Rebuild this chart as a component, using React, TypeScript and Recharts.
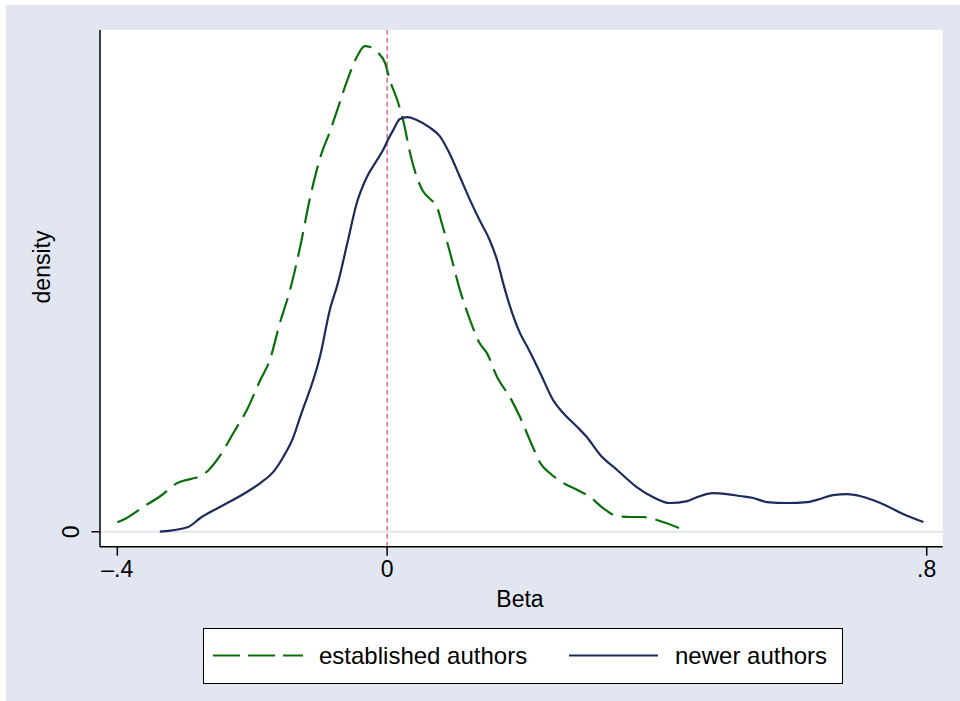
import React from 'react';
import { LineChart, Line, XAxis, YAxis, CartesianGrid, ReferenceLine, Legend } from 'recharts';

const FONT = '"Liberation Sans", Arial, Helvetica, sans-serif';

const xTicks = [-0.4, 0, 0.8];
const xTickLabels = ['\u2013.4', '0', '.8'];
const yTicks = [0];
const yTickLabels = ['0'];

const seriesNames = ['established authors', 'newer authors'];

const establishedX = [
  -0.4, -0.389, -0.362, -0.336, -0.311, -0.292, -0.277, -0.266, -0.248, -0.228, -0.208, -0.188, -0.174,
  -0.159, -0.144, -0.129, -0.114, -0.099, -0.084, -0.074, -0.059, -0.045, -0.033, -0.025, -0.013, -0.003,
  0.004, 0.015, 0.024, 0.034, 0.044, 0.053, 0.064, 0.074, 0.081, 0.093, 0.108, 0.123, 0.137, 0.148, 0.163,
  0.182, 0.197, 0.216, 0.227, 0.241, 0.261, 0.282, 0.301, 0.32, 0.341, 0.36, 0.379, 0.4, 0.429, 0.443,
];
const establishedY = [
  0.067, 0.091, 0.176, 0.255, 0.348, 0.376, 0.398, 0.434, 0.541, 0.705, 0.869, 1.084, 1.226,
  1.491, 1.726, 2.034, 2.391, 2.676, 2.869, 3.012, 3.226, 3.391, 3.469, 3.462, 3.419, 3.348,
  3.226, 3.084, 2.934, 2.705, 2.534, 2.434, 2.376, 2.319, 2.205, 1.998, 1.726, 1.512, 1.348, 1.276, 1.105,
  0.962, 0.819, 0.605, 0.491, 0.419, 0.348, 0.298, 0.248, 0.169, 0.112, 0.105, 0.105, 0.084, 0.034, 0.005,
];

const newerX = [
  -0.337, -0.295, -0.277, -0.248, -0.208, -0.188, -0.169, -0.154, -0.139, -0.129, -0.099, -0.085, -0.073,
  -0.059, -0.045, -0.03, -0.015, -0.006, 0.001, 0.009, 0.019, 0.03, 0.044, 0.064, 0.078, 0.093, 0.108,
  0.123, 0.137, 0.152, 0.163, 0.172, 0.182, 0.197, 0.208, 0.227, 0.246, 0.261, 0.282, 0.296, 0.316, 0.341,
  0.37, 0.394, 0.419, 0.445, 0.46, 0.483, 0.504, 0.523, 0.543, 0.563, 0.593, 0.623, 0.642, 0.661, 0.682,
  0.701, 0.72, 0.741, 0.765, 0.795,
];
const newerY = [
  0.0, 0.034, 0.098, 0.176, 0.284, 0.348, 0.426, 0.534, 0.676, 0.819, 1.262, 1.584, 1.776,
  2.062, 2.348, 2.534, 2.655, 2.726, 2.798, 2.869, 2.948, 2.962, 2.941, 2.884, 2.826, 2.698, 2.534,
  2.369, 2.226, 2.084, 1.941, 1.776, 1.612, 1.419, 1.319, 1.134, 0.941, 0.848, 0.748, 0.676, 0.548, 0.441,
  0.319, 0.248, 0.205, 0.219, 0.248, 0.276, 0.269, 0.255, 0.241, 0.212, 0.205, 0.212, 0.234, 0.262, 0.269,
  0.255, 0.226, 0.184, 0.126, 0.069,
];

const establishedData = establishedX.map((x, i) => ({ x, y: establishedY[i] }));
const newerData = newerX.map((x, i) => ({ x, y: newerY[i] }));

const GREEN = '#0a6f0a';
const NAVY = '#1c2b5c';
const REFRED = '#d4708a';
const BG = '#e1e6f0';
const DASH = '25 9';

const YTick = (props: any) => {
  const { y, payload } = props;
  const idx = yTicks.indexOf(payload.value);
  const label = idx >= 0 ? yTickLabels[idx] : String(payload.value);
  const cx = 71;
  return (
    <text
      x={cx}
      y={y}
      dy="0.36em"
      transform={`rotate(-90 ${cx} ${y})`}
      textAnchor="middle"
      fill="#000"
      fontSize={23}
      fontFamily={FONT}
    >
      {label}
    </text>
  );
};

const LegendBox = () => (
  <div
    style={{
      position: 'relative',
      width: 640,
      height: 56,
      boxSizing: 'border-box',
      border: '1.5px solid #000',
      background: '#fff',
    }}
  >
    <svg width={637} height={53} style={{ position: 'absolute', left: 0, top: 0 }}>
      <line x1={9} x2={99} y1={26.5} y2={26.5} stroke={GREEN} strokeWidth={2.2} strokeDasharray="27 8" />
      <text x={115} y={26.5} dy="0.36em" fontSize={24} fontFamily={FONT} fill="#000">
        {seriesNames[0]}
      </text>
      <line x1={365} x2={454} y1={26.5} y2={26.5} stroke={NAVY} strokeWidth={2.2} />
      <text x={471} y={26.5} dy="0.36em" fontSize={24} fontFamily={FONT} fill="#000">
        {seriesNames[1]}
      </text>
    </svg>
  </div>
);

export default function App() {
  return (
    <div style={{ position: 'absolute', left: 0, top: 0, width: 960, height: 701 }}>
      <div style={{ position: 'absolute', left: 6, top: 5, width: 954, height: 696, background: BG }} />
      <div style={{ position: 'absolute', left: 0, top: 0 }}>
        <LineChart
          width={960}
          height={701}
          margin={{ top: 30, right: 17.3, left: 40, bottom: 104.3 }}
        >
          <CartesianGrid
            fill="#ffffff"
            vertical={false}
            horizontal={true}
            stroke={BG}
            strokeWidth={2}
            horizontalValues={yTicks}
          />
          <XAxis
            dataKey="x"
            type="number"
            domain={[-0.4257, 0.8237]}
            allowDataOverflow
            ticks={xTicks}
            tickFormatter={(v: number) => {
              const i = xTicks.indexOf(v);
              return i >= 0 ? xTickLabels[i] : String(v);
            }}
            height={50}
            tickSize={9}
            tickMargin={5}
            axisLine={{ stroke: '#000', strokeWidth: 1.5 }}
            tickLine={{ stroke: '#000', strokeWidth: 1.5 }}
            tick={{ fill: '#000', fontSize: 23, fontFamily: FONT }}
            label={{
              content: () => (
                <text x={520} y={599} dy="0.36em" textAnchor="middle" fontSize={23} fontFamily={FONT} fill="#000">
                  Beta
                </text>
              ),
            }}
          />
          <YAxis
            type="number"
            domain={[-0.107, 3.584]}
            allowDataOverflow
            ticks={yTicks}
            width={60}
            tickSize={8.5}
            axisLine={{ stroke: '#000', strokeWidth: 1.5 }}
            tickLine={{ stroke: '#000', strokeWidth: 1.5 }}
            tick={<YTick />}
            label={{
              content: () => (
                <text
                  x={42}
                  y={267}
                  dy="0.36em"
                  transform="rotate(-90 42 267)"
                  textAnchor="middle"
                  fontSize={23}
                  fontFamily={FONT}
                  fill="#000"
                >
                  density
                </text>
              ),
            }}
          />
          <ReferenceLine x={0} stroke={REFRED} strokeWidth={1.5} strokeDasharray="5 3" ifOverflow="extendDomain" />
          <Line
            data={establishedData}
            dataKey="y"
            type="monotone"
            stroke={GREEN}
            strokeWidth={2.2}
            strokeDasharray={DASH}
            dot={false}
            activeDot={false}
            isAnimationActive={false}
            name={seriesNames[0]}
          />
          <Line
            data={newerData}
            dataKey="y"
            type="monotone"
            stroke={NAVY}
            strokeWidth={2.2}
            dot={false}
            activeDot={false}
            isAnimationActive={false}
            name={seriesNames[1]}
          />
          <Legend
            layout="horizontal"
            verticalAlign="middle"
            align="center"
            wrapperStyle={{ left: 203, top: 628, width: 640, height: 56 }}
            content={() => <LegendBox />}
          />
        </LineChart>
      </div>
    </div>
  );
}
